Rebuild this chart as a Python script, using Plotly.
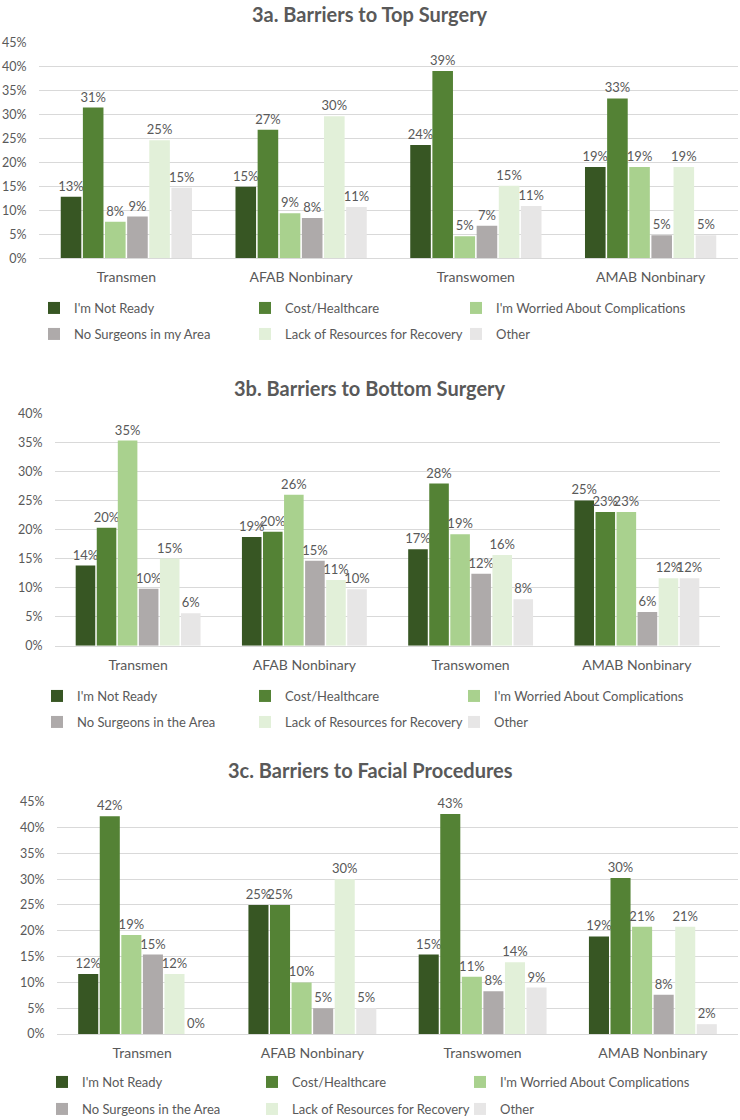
import plotly.graph_objects as go

W, H = 740, 1120

categories = ["Transmen", "AFAB Nonbinary", "Transwomen", "AMAB Nonbinary"]

series_top = ["I'm Not Ready", "Cost/Healthcare", "I'm Worried About Complications",
              "No Surgeons in my Area", "Lack of Resources for Recovery", "Other"]
series_other = ["I'm Not Ready", "Cost/Healthcare", "I'm Worried About Complications",
                "No Surgeons in the Area", "Lack of Resources for Recovery", "Other"]

# 3a. Top surgery
top_not_ready = [0.128, 0.149, 0.236, 0.190]
top_cost = [0.314, 0.268, 0.390, 0.333]
top_worried = [0.076, 0.094, 0.046, 0.190]
top_no_surgeons = [0.087, 0.084, 0.068, 0.048]
top_lack = [0.246, 0.296, 0.151, 0.190]
top_other = [0.147, 0.107, 0.109, 0.048]

# 3b. Bottom surgery
bottom_not_ready = [0.138, 0.187, 0.166, 0.250]
bottom_cost = [0.203, 0.196, 0.279, 0.230]
bottom_worried = [0.353, 0.260, 0.192, 0.230]
bottom_no_surgeons = [0.098, 0.146, 0.124, 0.058]
bottom_lack = [0.150, 0.113, 0.156, 0.116]
bottom_other = [0.056, 0.097, 0.080, 0.116]

# 3c. Facial procedures
facial_not_ready = [0.116, 0.250, 0.154, 0.189]
facial_cost = [0.422, 0.250, 0.426, 0.302]
facial_worried = [0.192, 0.100, 0.111, 0.208]
facial_no_surgeons = [0.154, 0.050, 0.083, 0.076]
facial_lack = [0.116, 0.300, 0.139, 0.208]
facial_other = [0.000, 0.050, 0.090, 0.019]

colors = ["#375623", "#548235", "#A9D18E", "#AEAAAA", "#E2F0D9", "#E7E6E6"]

titles = ["3a. Barriers to Top Surgery", "3b. Barriers to Bottom Surgery",
          "3c. Barriers to Facial Procedures"]

panels = [
    dict(names=series_top,
         data=[top_not_ready, top_cost, top_worried, top_no_surgeons, top_lack, top_other],
         x0=39, x1=738, y0=258.3, y1=42.3, ymax=0.45, title_y=14,
         legend_rows=(308, 334), legend_cols=(74, 285, 496)),
    dict(names=series_other,
         data=[bottom_not_ready, bottom_cost, bottom_worried, bottom_no_surgeons,
               bottom_lack, bottom_other],
         x0=55, x1=720, y0=645.7, y1=413.3, ymax=0.40, title_y=388,
         legend_rows=(696, 722), legend_cols=(77, 285, 494)),
    dict(names=series_other,
         data=[facial_not_ready, facial_cost, facial_worried, facial_no_surgeons,
               facial_lack, facial_other],
         x0=57, x1=738, y0=1034, y1=801.7, ymax=0.45, title_y=770,
         legend_rows=(1082, 1109), legend_cols=(82, 292, 500)),
]

FONT = "Lato"
GREY = "#595959"
TEXT_OFFSET = 40  # distance from legend left edge to its label text

fig = go.Figure()
layout = dict(
    width=W, height=H,
    margin=dict(l=0, r=0, t=0, b=0, autoexpand=False),
    paper_bgcolor="white", plot_bgcolor="white",
    barmode="group", bargap=0.24, bargroupgap=0.07,
    font=dict(family=FONT, color=GREY, size=13),
    showlegend=True,
    annotations=[],
)

leg_count = 0
for p_i, p in enumerate(panels):
    xa = "x" if p_i == 0 else f"x{p_i + 1}"
    ya = "y" if p_i == 0 else f"y{p_i + 1}"
    xkey = "xaxis" if p_i == 0 else f"xaxis{p_i + 1}"
    ykey = "yaxis" if p_i == 0 else f"yaxis{p_i + 1}"
    for s_i, (name, vals) in enumerate(zip(p["names"], p["data"])):
        leg_count += 1
        leg = "legend" if leg_count == 1 else f"legend{leg_count}"
        fig.add_trace(go.Bar(
            x=categories, y=vals, name=name, xaxis=xa, yaxis=ya,
            marker=dict(color=colors[s_i], line=dict(width=0)),
            texttemplate="%{y:.0%}", textposition="outside",
            textfont=dict(family=FONT, size=13, color=GREY),
            cliponaxis=False, constraintext="none",
            legend=leg, showlegend=True, hoverinfo="skip",
        ))
        row_y = p["legend_rows"][s_i // 3]
        col_x = p["legend_cols"][s_i % 3]
        layout[leg] = dict(
            visible=True,
            orientation="v", x=(col_x - TEXT_OFFSET) / W, xanchor="left",
            y=1 - row_y / H, yanchor="middle",
            font=dict(family=FONT, size=13, color=GREY),
            bgcolor="rgba(0,0,0,0)", borderwidth=0,
        )
    layout[xkey] = dict(
        domain=[p["x0"] / W, p["x1"] / W], anchor=ya,
        showgrid=False, showline=True, linecolor="#D9D9D9", linewidth=1,
        ticks="", tickfont=dict(family=FONT, size=14, color=GREY),
        ticklabelstandoff=6, fixedrange=True,
    )
    layout[ykey] = dict(
        domain=[1 - p["y0"] / H, 1 - p["y1"] / H], anchor=xa,
        range=[0, p["ymax"]], dtick=0.05, tickformat=".0%",
        showgrid=True, gridcolor="#D9D9D9", gridwidth=1, zeroline=False,
        showline=False, ticks="outside", ticklen=9, tickcolor="rgba(0,0,0,0)",
        tickfont=dict(family=FONT, size=12.5, color=GREY), fixedrange=True,
    )
    layout["annotations"].append(dict(
        text=titles[p_i], x=0.5, y=1 - p["title_y"] / H, xref="paper", yref="paper",
        xanchor="center", yanchor="middle", showarrow=False,
        font=dict(family=FONT, size=20, color=GREY, weight="bold"),
    ))

fig.update_layout(**layout)
fig.write_html(
    "out.html",
    config={"displayModeBar": False, "staticPlot": True},
    post_script="document.body.style.margin='0';document.body.style.padding='0';",
)
